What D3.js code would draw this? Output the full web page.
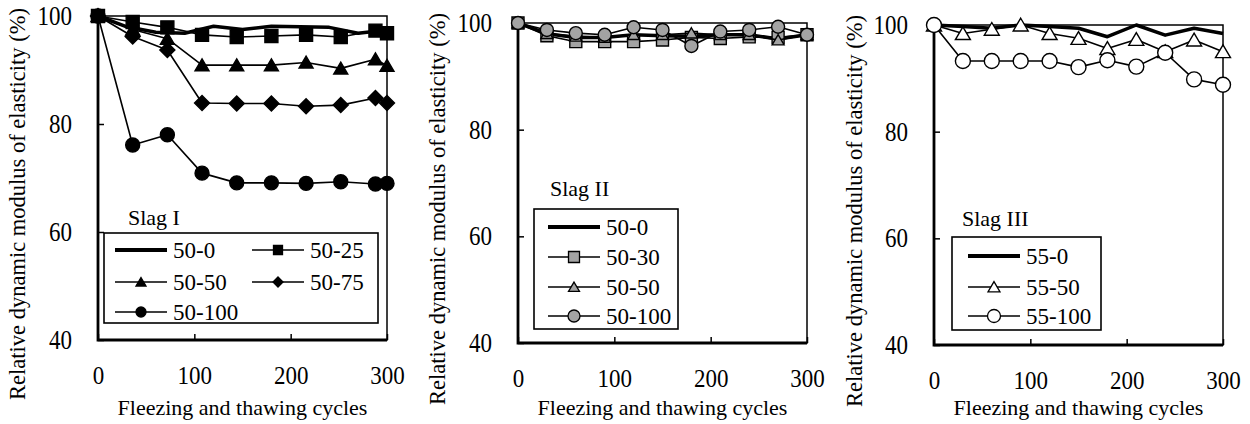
<!DOCTYPE html>
<html>
<head>
<meta charset="utf-8">
<script src="https://cdn.jsdelivr.net/npm/d3@7"></script>
<style>
  body { margin: 0; background: #fff; }
  svg { display: block; }
</style>
</head>
<body>
<svg width="1250" height="424"></svg>
<script>
// cycles at which readings were taken
const cycles30 = [0, 30, 60, 90, 120, 150, 180, 210, 240, 270, 300];
const cycles36 = [0, 36, 72, 108, 144, 180, 216, 252, 288, 300];

// Slag I
const s1_50_0 = [100, 98.0, 97.0, 96.8, 98.1, 97.5, 98.1, 98.0, 97.9, 96.8, 97.4];
const s1_50_25 = [100, 98.9, 97.9, 96.5, 96.1, 96.3, 96.5, 96.1, 97.3, 96.8];
const s1_50_50 = [100, 97.5, 95.8, 90.9, 90.9, 90.9, 91.4, 90.3, 92.0, 90.8];
const s1_50_75 = [100, 96.2, 93.7, 83.9, 83.8, 83.8, 83.3, 83.5, 84.8, 83.9];
const s1_50_100 = [100, 76.1, 78.0, 70.9, 69.1, 69.1, 69.0, 69.3, 68.9, 69.0];

// Slag II
const s2_50_0 = [100, 98.0, 97.3, 97.3, 97.8, 97.6, 97.5, 97.8, 97.8, 97.0, 97.8];
const s2_50_30 = [100, 97.6, 96.5, 96.5, 96.5, 96.8, 97.3, 97.1, 97.4, 97.3, 97.8];
const s2_50_50 = [100, 98.0, 97.5, 97.3, 97.8, 97.8, 98.1, 97.8, 97.8, 96.8, 97.8];
const s2_50_100 = [100, 98.7, 98.1, 97.8, 99.2, 98.7, 95.7, 98.4, 98.7, 99.3, 97.8];

// Slag III
const s3_55_0 = [100, 99.7, 99.4, 100, 99.7, 99.4, 97.8, 100, 98.1, 99.4, 98.4];
const s3_55_50 = [100, 98.4, 99.2, 100, 98.4, 97.5, 95.6, 97.3, 95.0, 97.2, 95.0];
const s3_55_100 = [100, 93.25, 93.25, 93.25, 93.25, 92.1, 93.4, 92.2, 94.8, 89.8, 88.8];

const yTicks = [40, 60, 80, 100];
const xTicks = [0, 100, 200, 300];
const yTitle = 'Relative dynamic modulus of elasticity (%)';
const xTitle = 'Fleezing and thawing cycles';

const FONT = '"Liberation Serif", "DejaVu Serif", serif';
const GRAY = '#a3a3a3';
const SY = 1.15; // the source glyphs are a little taller than wide

const panels = [
  {
    title: 'Slag I', box: [98, 387, 16, 340], yTitleX: 25,
    legend: { rect: [104, 233, 378, 323], titleAt: [128, 225] },
    series: [
      { label: '50-0', x: cycles30, y: s1_50_0, width: 3.5, lg: [115, 250] },
      { label: '50-25', x: cycles36, y: s1_50_25, m: 'square', size: 13, fill: '#000', lg: [252, 250], ls: 9 },
      { label: '50-50', x: cycles36, y: s1_50_50, m: 'triangle', size: 14, fill: '#000', lg: [115, 282], ls: 10 },
      { label: '50-75', x: cycles36, y: s1_50_75, m: 'diamond', size: 15, fill: '#000', lg: [252, 282], ls: 10 },
      { label: '50-100', x: cycles36, y: s1_50_100, m: 'circle', size: 14, fill: '#000', lg: [115, 312], ls: 10 },
    ],
  },
  {
    title: 'Slag II', box: [518, 807, 23, 343], yTitleX: 445,
    legend: { rect: [534, 209, 678, 329], titleAt: [550, 196] },
    series: [
      { label: '50-0', x: cycles30, y: s2_50_0, width: 3.5, lg: [548, 227] },
      { label: '50-30', x: cycles30, y: s2_50_30, m: 'square', size: 12, fill: GRAY, lg: [548, 257], ls: 11 },
      { label: '50-50', x: cycles30, y: s2_50_50, m: 'triangle', size: 12, fill: GRAY, lg: [548, 287], ls: 11 },
      { label: '50-100', x: cycles30, y: s2_50_100, m: 'circle', size: 13, fill: GRAY, lg: [548, 316], ls: 12 },
    ],
  },
  {
    title: 'Slag III', box: [934, 1223, 25, 345], yTitleX: 862,
    legend: { rect: [952, 237, 1101, 330], titleAt: [962, 226] },
    series: [
      { label: '55-0', x: cycles30, y: s3_55_0, width: 3.5, lg: [968, 256] },
      { label: '55-50', x: cycles30, y: s3_55_50, m: 'triangle', size: 15, fill: '#fff', lg: [968, 287], ls: 12 },
      { label: '55-100', x: cycles30, y: s3_55_100, m: 'circle', size: 15, fill: '#fff', lg: [968, 316], ls: 13 },
    ],
  },
];

function markerPath(type, s) {
  const h = s / 2;
  if (type === 'square') return `M${-h},${-h}h${s}v${s}h${-s}Z`;
  if (type === 'triangle') return `M0,${-h * 0.9}L${h},${h * 0.8}L${-h},${h * 0.8}Z`;
  if (type === 'diamond') return `M0,${-h}L${h},0L0,${h}L${-h},0Z`;
  return d3.symbol().type(d3.symbolCircle).size(Math.PI * h * h)();
}

const svg = d3.select('svg').attr('font-family', FONT);

panels.forEach((p) => {
  const [x0, x1, yT, yB] = p.box;
  const x = d3.scaleLinear().domain([0, 300]).range([x0, x1]);
  const y = d3.scaleLinear().domain([40, 100]).range([yB, yT]);
  const g = svg.append('g');

  // axes with inward ticks
  const ya = g.append('g')
    .attr('transform', `translate(${x0},0)`)
    .call(d3.axisLeft(y).tickValues(yTicks).tickSize(-6).tickPadding(26));
  const xa = g.append('g')
    .attr('transform', `translate(0,${yB})`)
    .call(d3.axisBottom(x).tickValues(xTicks).tickSize(-6));
  [ya, xa].forEach((a) => {
    a.attr('font-family', FONT).attr('font-size', 23);
    a.select('.domain').remove();
    a.selectAll('line').attr('stroke', '#000').attr('stroke-width', 1.5);
    a.selectAll('text').attr('font-family', FONT).attr('fill', '#000');
  });
  ya.selectAll('text').attr('transform', `scale(1,${SY})`);
  xa.selectAll('text').attr('y', 0).attr('dy', null)
    .attr('transform', `translate(0,44) scale(1,1.1)`);

  // plot frame: thin top/right, heavier left/bottom
  g.append('rect')
    .attr('x', x0).attr('y', yT).attr('width', x1 - x0).attr('height', yB - yT)
    .attr('fill', 'none').attr('stroke', '#000').attr('stroke-width', 1.5);
  g.append('path')
    .attr('d', `M${x0},${yT}V${yB}H${x1}`)
    .attr('fill', 'none').attr('stroke', '#000').attr('stroke-width', 2.8);

  // titles
  g.append('text')
    .attr('transform', `translate(${(x0 + x1) / 2},415)`)
    .attr('text-anchor', 'middle').attr('font-size', 22)
    .text(xTitle);
  g.append('text')
    .attr('transform', `translate(${p.yTitleX},${(yT + yB) / 2 + 26}) rotate(-90)`)
    .attr('text-anchor', 'middle').attr('font-size', 22.5)
    .text(yTitle);

  // series
  const line = d3.line().x(d => x(d[0])).y(d => y(d[1]));
  p.series.forEach((s) => {
    const pts = s.x.map((c, i) => [c, s.y[i]]);
    g.append('path')
      .datum(pts)
      .attr('d', line)
      .attr('fill', 'none')
      .attr('stroke', '#000')
      .attr('stroke-width', s.width || 1.6)
      .attr('stroke-linejoin', 'round');
    if (s.m) {
      g.selectAll(null)
        .data(pts)
        .enter().append('path')
        .attr('d', markerPath(s.m, s.size))
        .attr('transform', d => `translate(${x(d[0])},${y(d[1])})`)
        .attr('fill', s.fill)
        .attr('stroke', '#000')
        .attr('stroke-width', 1.4);
    }
  });

  // legend
  const [lx0, ly0, lx1, ly1] = p.legend.rect;
  g.append('text')
    .attr('transform', `translate(${p.legend.titleAt[0]},${p.legend.titleAt[1]})`)
    .attr('font-size', 22)
    .text(p.title);
  g.append('rect')
    .attr('x', lx0).attr('y', ly0).attr('width', lx1 - lx0).attr('height', ly1 - ly0)
    .attr('fill', '#fff').attr('stroke', '#000').attr('stroke-width', 1.6);
  p.series.forEach((s) => {
    const [lx, ly] = s.lg;
    g.append('line')
      .attr('x1', lx).attr('x2', lx + 52).attr('y1', ly).attr('y2', ly)
      .attr('stroke', '#000').attr('stroke-width', s.width ? 4 : 1.6);
    if (s.m) {
      g.append('path')
        .attr('d', markerPath(s.m, s.ls))
        .attr('transform', `translate(${lx + 26},${ly})`)
        .attr('fill', s.fill).attr('stroke', '#000').attr('stroke-width', 1.3);
    }
    g.append('text')
      .attr('x', lx + 58).attr('y', ly + 8)
      .attr('font-size', 23)
      .text(s.label);
  });
});
</script>
</body>
</html>
